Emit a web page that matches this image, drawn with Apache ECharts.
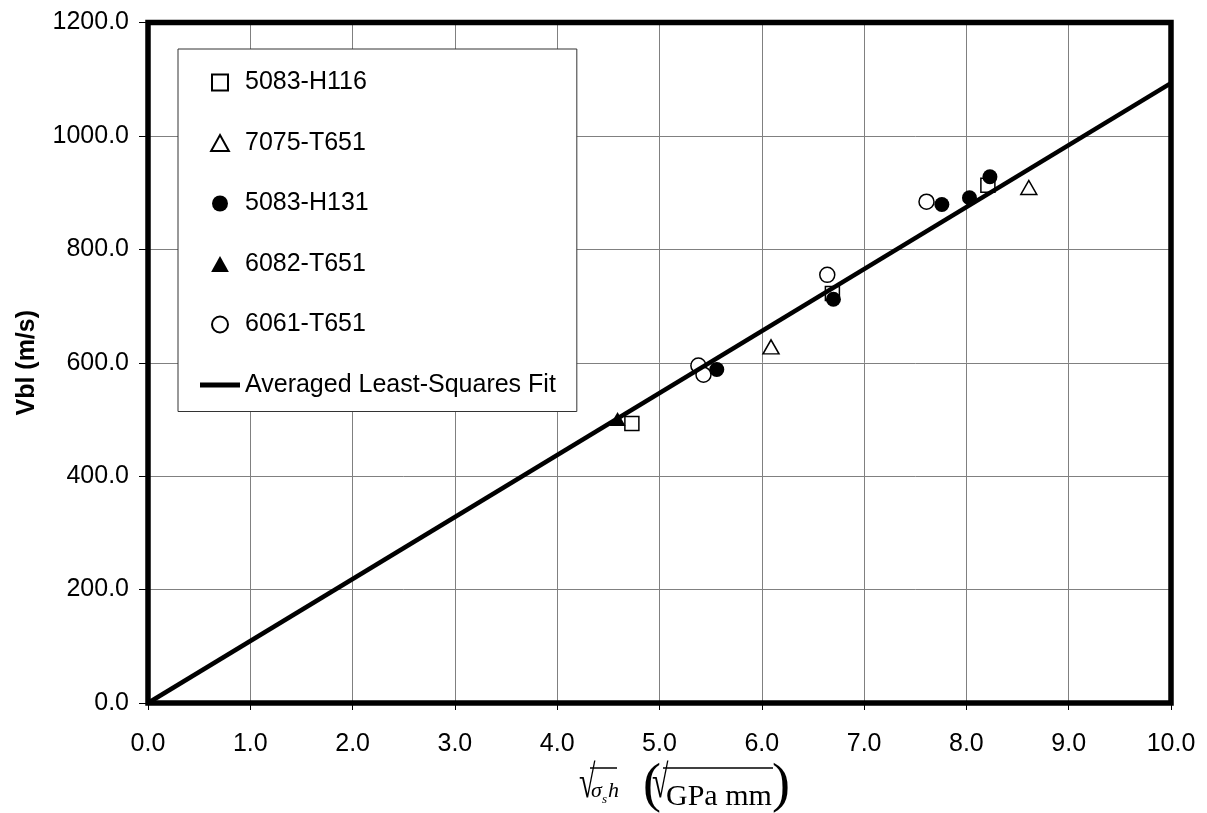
<!DOCTYPE html>
<html><head><meta charset="utf-8">
<script src="https://cdn.jsdelivr.net/npm/echarts@6/dist/echarts.min.js"></script>
<style>html,body{margin:0;padding:0;background:#fff}#c{width:1207px;height:813px}</style>
</head><body><div id="c"></div>
<script>
// ---- data ----
const seriesNames = ['5083-H116', '7075-T651', '5083-H131', '6082-T651', '6061-T651'];
const h116 = [[4.73, 493], [6.69, 722], [8.21, 913]];
const t7075 = [[6.09, 628], [8.61, 909]];
const h131 = [[5.56, 588], [6.70, 712], [7.76, 879], [8.03, 891], [8.23, 928]];
const t6082 = [[4.59, 501]];
const t6061 = [[5.38, 595], [5.43, 579], [6.64, 755], [7.61, 884]];
const fitName = 'Averaged Least-Squares Fit';
const fitLine = [[0, 0], [10, 1093]];
const xRange = [0, 10, 1];
const yRange = [0, 1200, 200];
const yTitle = 'Vbl (m/s)';

// ---- chart ----
const FONT = "'Liberation Sans', Arial, sans-serif";
const SERIF = "'Liberation Serif', 'DejaVu Serif', serif";
const openStyle = { color: '#fff', borderColor: '#000', borderWidth: 1.5, opacity: 1 };
const fillStyle = { color: '#000', borderColor: '#000', borderWidth: 0, opacity: 1 };
const ICON_SQUARE = 'path://M0,0H10V10H0Z';
const ICON_TRI = 'path://M5,0L10,9H0Z';
const ICON_LINE = 'path://M0,0H40V5H0Z';

function scatter(name, data, symbol, size, style) {
  return { name, type: 'scatter', data, symbol, symbolSize: size, itemStyle: style,
    emphasis: { disabled: true }, z: 3 };
}

const chart = echarts.init(document.getElementById('c'), null, { renderer: 'canvas' });
chart.setOption({
  animation: false,
  backgroundColor: '#fff',
  grid: { left: 148, right: 36, top: 22.5, bottom: 110, show: true, borderWidth: 5.5, borderColor: '#000', backgroundColor: 'transparent', z: 4 },
  xAxis: {
    type: 'value', min: xRange[0], max: xRange[1], interval: xRange[2],
    axisLine: { show: false },
    axisTick: { show: true, length: 7, lineStyle: { color: '#000', width: 1 } },
    axisLabel: { margin: 29, fontSize: 25, color: '#000', fontFamily: FONT, formatter: v => v.toFixed(1) },
    splitLine: { show: true, lineStyle: { color: '#808080', width: 1 } }
  },
  yAxis: {
    type: 'value', min: yRange[0], max: yRange[1], interval: yRange[2],
    name: yTitle, nameLocation: 'middle', nameGap: 108,
    nameTextStyle: { fontSize: 25, fontWeight: 'bold', color: '#000', fontFamily: FONT },
    axisLine: { show: false },
    axisTick: { show: true, length: 9, lineStyle: { color: '#000', width: 1 } },
    axisLabel: { margin: 19, fontSize: 25, color: '#000', fontFamily: FONT, formatter: v => v.toFixed(1) },
    splitLine: { show: true, lineStyle: { color: '#808080', width: 1 } }
  },
  legend: {
    orient: 'vertical', left: 178, top: 49,
    padding: [21, 21, 14, 22],
    itemWidth: 40, itemHeight: 16, itemGap: 35.5,
    backgroundColor: '#fff', borderColor: '#333', borderWidth: 1,
    selectedMode: false,
    textStyle: { fontSize: 25, lineHeight: 25, color: '#000', fontFamily: FONT },
    data: [
      { name: seriesNames[0], icon: ICON_SQUARE },
      { name: seriesNames[1], icon: ICON_TRI },
      { name: seriesNames[2], icon: 'circle' },
      { name: seriesNames[3], icon: ICON_TRI },
      { name: seriesNames[4], icon: 'circle' },
      { name: fitName, icon: ICON_LINE }
    ],
    z: 5
  },
  series: [
    scatter(seriesNames[0], h116, 'rect', 14, openStyle),
    scatter(seriesNames[1], t7075, 'triangle', [16, 14], openStyle),
    scatter(seriesNames[2], h131, 'circle', 15, fillStyle),
    scatter(seriesNames[3], t6082, 'triangle', [16, 14], fillStyle),
    scatter(seriesNames[4], t6061, 'circle', 15, openStyle),
    { name: fitName, type: 'line', data: fitLine, symbol: 'none', showSymbol: false,
      lineStyle: { color: '#000', width: 4.5 }, itemStyle: { color: '#000', opacity: 1 },
      emphasis: { disabled: true }, z: 4 }
  ],
  graphic: [
    { type: 'text', left: 579, top: 762, scaleY: 1.55, style: { text: '\u221A', font: '30px ' + SERIF, fill: '#000' } },
    { type: 'line', shape: { x1: 590, y1: 768, x2: 617, y2: 768 }, style: { stroke: '#000', lineWidth: 1.5 } },
    { type: 'text', left: 591, top: 780, style: { text: '\u03C3', font: 'italic 22px ' + SERIF, fill: '#000' } },
    { type: 'text', left: 602, top: 793, style: { text: 's', font: 'italic 13px ' + SERIF, fill: '#000' } },
    { type: 'text', left: 608, top: 780, style: { text: 'h', font: 'italic 22px ' + SERIF, fill: '#000' } },
    { type: 'text', left: 643, top: 760, style: { text: '(', font: '54px ' + SERIF, fill: '#000' } },
    { type: 'text', left: 652, top: 762, scaleY: 1.55, style: { text: '\u221A', font: '30px ' + SERIF, fill: '#000' } },
    { type: 'line', shape: { x1: 663, y1: 768, x2: 773, y2: 768 }, style: { stroke: '#000', lineWidth: 1.5 } },
    { type: 'text', left: 666, top: 782, style: { text: 'GPa mm', font: '30px ' + SERIF, fill: '#000' } },
    { type: 'text', left: 772, top: 760, style: { text: ')', font: '54px ' + SERIF, fill: '#000' } }
  ]
});
</script>
</body></html>
